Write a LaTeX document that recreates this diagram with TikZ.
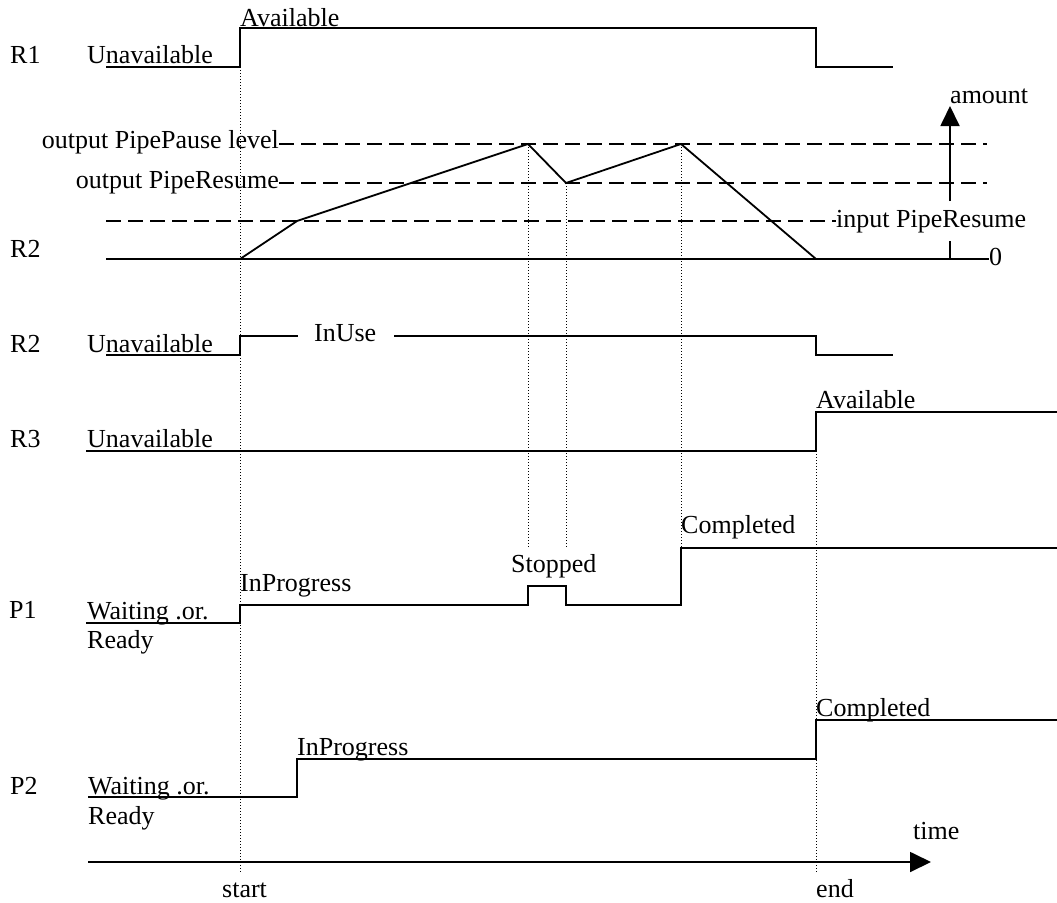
\documentclass[tikz,border=0pt]{standalone}
\usepackage{fontspec}
\setmainfont{Liberation Serif}
\usetikzlibrary{arrows.meta}
\tikzset{
  lbl/.style={anchor=base west, inner sep=0pt, font=\fontsize{26}{30}\selectfont},
  lble/.style={lbl, anchor=base east},
  wave/.style={line width=1.8pt, line join=miter},
  level/.style={line width=1.6pt, dash pattern=on 15pt off 7pt},
  guide/.style={line width=0.8pt, dash pattern=on 1.2pt off 1.8pt},
  axis/.style={line width=1.8pt, -{Triangle[length=21pt,width=20pt]}}
}
\begin{document}
\begin{tikzpicture}[x=1pt,y=-1pt]
\useasboundingbox (0,0) rectangle (1057,902);
% guides (dotted)
\draw[guide] (240,67) -- (240,872);
\draw[guide] (528,144) -- (528,548);
\draw[guide] (566,183) -- (566,548);
\draw[guide] (681,144) -- (681,548);
\draw[guide] (816,451) -- (816,872);

% R1
\node[lbl] (r1) at (10,63) {R1};
\node[lbl] (r1u) at (87,63) {Unavailable};
\node[lbl] (r1a) at (240,26) {Available};
\draw[wave] (106,67) -- (240,67) -- (240,28) -- (816,28) -- (816,67) -- (893,67);

% R2 amount
\node[lble] (opp) at (279,148) {output PipePause level};
\node[lble] (opr) at (279,188) {output PipeResume};
\node[lbl] (ipr) at (836,227) {input PipeResume};
\node[lbl] (r2a) at (10,257) {R2};
\node[lbl] (zero) at (989,265) {0};
\node[lbl] (amt) at (950,103) {amount};
\draw[level] (279,144) -- (987,144);
\draw[level] (279,183) -- (987,183);
\draw[level] (106,221) -- (836,221);
\draw[wave] (106,259) -- (989,259);
\draw[wave] (950,259) -- (950,241);
\draw[line width=1.8pt, -{Triangle[length=20pt,width=19pt]}] (950,201) -- (950,106);
\draw[wave, line join=miter] (240,259) -- (297,221) -- (528,144) -- (566,183) -- (681,144) -- (816,259);

% R2 state
\node[lbl] (r2b) at (10,352) {R2};
\node[lbl] (r2u) at (87,352) {Unavailable};
\node[lbl] (inuse) at (314,341) {InUse};
\draw[wave] (106,355) -- (240,355) -- (240,336) -- (298,336);
\draw[wave] (394,336) -- (816,336) -- (816,355) -- (893,355);

% R3
\node[lbl] (r3) at (10,447) {R3};
\node[lbl] (r3u) at (87,447) {Unavailable};
\node[lbl] (r3a) at (816,408) {Available};
\draw[wave] (86,451) -- (816,451) -- (816,412) -- (1060,412);

% P1
\node[lbl] (p1) at (9,618) {P1};
\node[lbl] (p1w) at (87,619) {Waiting .or.};
\node[lbl] (p1r) at (87,648) {Ready};
\node[lbl] (p1i) at (240,591) {InProgress};
\node[lbl] (p1s) at (511,572) {Stopped};
\node[lbl] (p1c) at (681,533) {Completed};
\draw[wave] (86,623) -- (240,623) -- (240,605) -- (528,605) -- (528,586) -- (566,586) -- (566,605) -- (681,605) -- (681,548) -- (1060,548);

% P2
\node[lbl] (p2) at (10,794) {P2};
\node[lbl] (p2w) at (88,794) {Waiting .or.};
\node[lbl] (p2r) at (88,824) {Ready};
\node[lbl] (p2i) at (297,755) {InProgress};
\node[lbl] (p2c) at (816,716) {Completed};
\draw[wave] (88,797) -- (297,797) -- (297,759) -- (816,759) -- (816,720) -- (1060,720);

% time axis
\coordinate (t0) at (88,862);
\coordinate (t1) at (931,862);
\draw[axis] (t0) -- (t1);
\node[lbl] (time) at (913,839) {time};
\node[lbl] (start) at (222,897) {start};
\node[lbl] (end) at (816,897) {end};
\end{tikzpicture}
\end{document}
